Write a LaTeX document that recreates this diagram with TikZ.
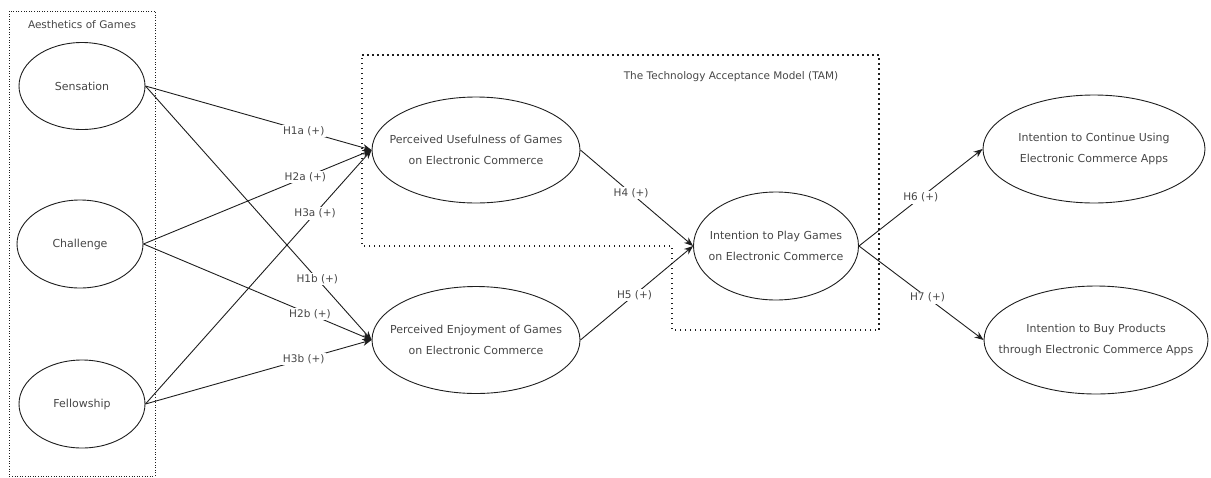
\documentclass[tikz,border=0pt]{standalone}
\usepackage{fontspec}
\setmainfont{DejaVu Sans}
\usetikzlibrary{shapes.geometric,arrows.meta}
\definecolor{txt}{RGB}{70,70,70}
\definecolor{ln}{RGB}{30,30,30}
\tikzset{
  construct/.style={ellipse, draw=ln, line width=0.9pt, inner sep=-24pt, text=txt, align=center,
    font=\fontsize{11}{21}\selectfont},
  hyp/.style={fill=white, text=txt, inner sep=1.5pt, font=\fontsize{10.5}{12}\selectfont},
  link/.style={draw=ln, line width=0.9pt, -{Stealth[length=9pt,width=7pt]}},
  tambox/.style={draw=ln, line width=1.5pt, dash pattern=on 1.5pt off 3.5pt},
  aesbox/.style={draw=ln, line width=0.8pt, dash pattern=on 1pt off 1.6pt},
  boxtitle/.style={text=txt, font=\fontsize{10.5}{12}\selectfont, inner sep=0pt}
}
\begin{document}
\begin{tikzpicture}[x=1pt,y=-1pt]
\useasboundingbox (0,0) rectangle (1211,477);
% boxes
\draw[aesbox] (9,11) rectangle (155,476);
\node[boxtitle] (aestitle) at (82,25) {Aesthetics of Games};
\draw[tambox] (362,55) -- (879,55) -- (879,330) -- (672,330) -- (672,246) -- (362,246) -- cycle;
\node[boxtitle] (tamtitle) at (731,77) {The Technology Acceptance Model (TAM)};
% constructs
\node[construct, minimum width=126pt, minimum height=87pt] (sen) at (82,86) {Sensation};
\node[construct, minimum width=126pt, minimum height=88pt] (cha) at (80,244) {Challenge};
\node[construct, minimum width=126pt, minimum height=88pt] (fel) at (82,404) {Fellowship};
\node[construct, minimum width=208pt, minimum height=106pt] (pu) at (476,150) {Perceived Usefulness of Games\\on Electronic Commerce};
\node[construct, minimum width=208pt, minimum height=107pt] (pe) at (476,340) {Perceived Enjoyment of Games\\on Electronic Commerce};
\node[construct, minimum width=165pt, minimum height=108pt] (ip) at (776,246) {Intention to Play Games\\on Electronic Commerce};
\node[construct, minimum width=222pt, minimum height=108pt] (ic) at (1094,149) {Intention to Continue Using\\Electronic Commerce Apps};
\node[construct, minimum width=224pt, minimum height=108pt] (ib) at (1096,340) {Intention to Buy Products\\through Electronic Commerce Apps};
% links
\draw[link] (sen.east) -- node[hyp, pos=0.70] (h1a) {H1a (+)} (pu.west);
\draw[link] (sen.east) -- node[hyp, pos=0.76] (h1b) {H1b (+)} (pe.west);
\draw[link] (cha.east) -- node[hyp, pos=0.71] (h2a) {H2a (+)} (pu.west);
\draw[link] (cha.east) -- node[hyp, pos=0.73] (h2b) {H2b (+)} (pe.west);
\draw[link] (fel.east) -- node[hyp, pos=0.75] (h3a) {H3a (+)} (pu.west);
\draw[link] (fel.east) -- node[hyp, pos=0.70] (h3b) {H3b (+)} (pe.west);
\draw[link] (pu.east) -- node[hyp, pos=0.45] (h4) {H4 (+)} (ip.west);
\draw[link] (pe.east) -- node[hyp, pos=0.48] (h5) {H5 (+)} (ip.west);
\draw[link] (ip.east) -- node[hyp, pos=0.50] (h6) {H6 (+)} (ic.west);
\draw[link] (ip.east) -- node[hyp, pos=0.55] (h7) {H7 (+)} (ib.west);
\end{tikzpicture}
\end{document}
